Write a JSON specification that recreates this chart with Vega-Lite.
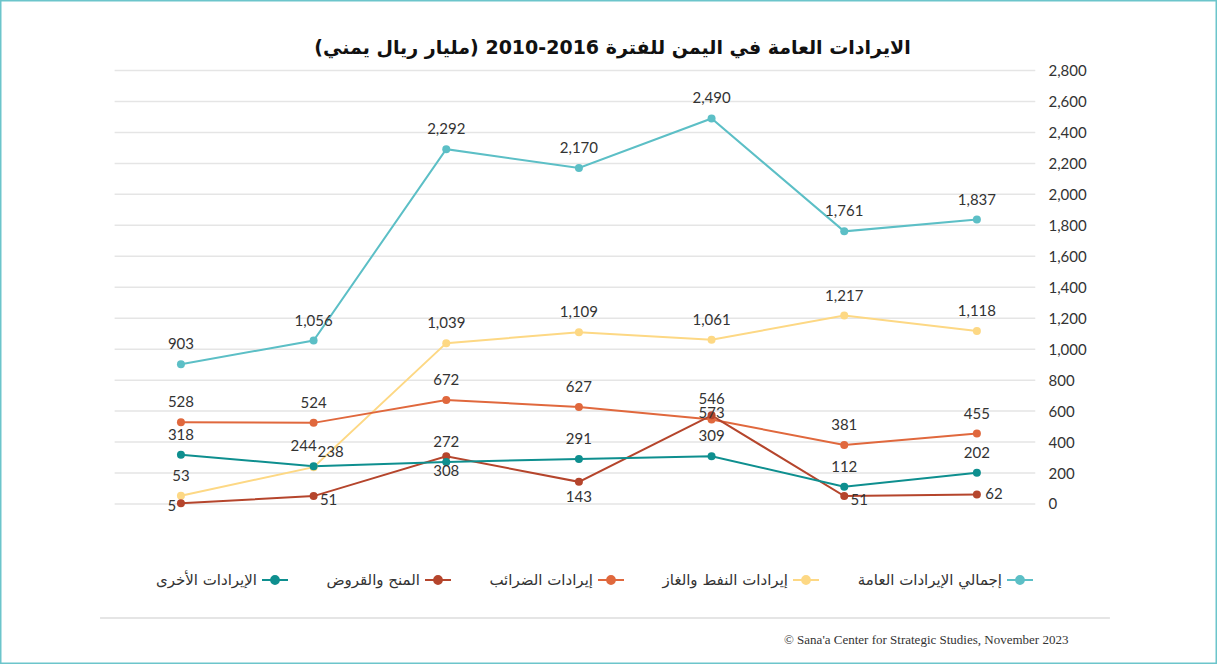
{
  "$schema": "https://vega.github.io/schema/vega-lite/v6.json",
  "width": 1217,
  "height": 664,
  "padding": 0,
  "autosize": {"type": "none"},
  "background": "white",
  "config": {
    "view": {"stroke": "#6cc5cb", "strokeWidth": 3},
    "font": "Lato"
  },
  "title": {
    "text": "\u200Fالايرادات العامة في اليمن للفترة 2016-2010 (مليار ريال يمني)\u200F",
    "font": "DejaVu Sans",
    "fontSize": 19,
    "fontWeight": "bold",
    "color": "#111111",
    "anchor": "middle",
    "frame": "group",
    "offset": -58,
    "dx": 4
  },
  "datasets": {
    "rev": [
      {"year": 2016, "series": "إجمالي الإيرادات العامة", "value": 903},
      {"year": 2015, "series": "إجمالي الإيرادات العامة", "value": 1056},
      {"year": 2014, "series": "إجمالي الإيرادات العامة", "value": 2292},
      {"year": 2013, "series": "إجمالي الإيرادات العامة", "value": 2170},
      {"year": 2012, "series": "إجمالي الإيرادات العامة", "value": 2490},
      {"year": 2011, "series": "إجمالي الإيرادات العامة", "value": 1761},
      {"year": 2010, "series": "إجمالي الإيرادات العامة", "value": 1837},
      {"year": 2016, "series": "إيرادات النفط والغاز", "value": 53},
      {"year": 2015, "series": "إيرادات النفط والغاز", "value": 238},
      {"year": 2014, "series": "إيرادات النفط والغاز", "value": 1039},
      {"year": 2013, "series": "إيرادات النفط والغاز", "value": 1109},
      {"year": 2012, "series": "إيرادات النفط والغاز", "value": 1061},
      {"year": 2011, "series": "إيرادات النفط والغاز", "value": 1217},
      {"year": 2010, "series": "إيرادات النفط والغاز", "value": 1118},
      {"year": 2016, "series": "إيرادات الضرائب", "value": 528},
      {"year": 2015, "series": "إيرادات الضرائب", "value": 524},
      {"year": 2014, "series": "إيرادات الضرائب", "value": 672},
      {"year": 2013, "series": "إيرادات الضرائب", "value": 627},
      {"year": 2012, "series": "إيرادات الضرائب", "value": 546},
      {"year": 2011, "series": "إيرادات الضرائب", "value": 381},
      {"year": 2010, "series": "إيرادات الضرائب", "value": 455},
      {"year": 2016, "series": "المنح والقروض", "value": 5},
      {"year": 2015, "series": "المنح والقروض", "value": 51},
      {"year": 2014, "series": "المنح والقروض", "value": 308},
      {"year": 2013, "series": "المنح والقروض", "value": 143},
      {"year": 2012, "series": "المنح والقروض", "value": 573},
      {"year": 2011, "series": "المنح والقروض", "value": 51},
      {"year": 2010, "series": "المنح والقروض", "value": 62},
      {"year": 2016, "series": "الإيرادات الأخرى", "value": 318},
      {"year": 2015, "series": "الإيرادات الأخرى", "value": 244},
      {"year": 2014, "series": "الإيرادات الأخرى", "value": 272},
      {"year": 2013, "series": "الإيرادات الأخرى", "value": 291},
      {"year": 2012, "series": "الإيرادات الأخرى", "value": 309},
      {"year": 2011, "series": "الإيرادات الأخرى", "value": 112},
      {"year": 2010, "series": "الإيرادات الأخرى", "value": 202}
    ],
    "grid": [
      {"tick": 0}, {"tick": 200}, {"tick": 400}, {"tick": 600}, {"tick": 800},
      {"tick": 1000}, {"tick": 1200}, {"tick": 1400}, {"tick": 1600}, {"tick": 1800},
      {"tick": 2000}, {"tick": 2200}, {"tick": 2400}, {"tick": 2600}, {"tick": 2800}
    ],
    "note": [
      {"source": "© Sana'a Center for Strategic Studies, November 2023"}
    ]
  },
  "layer": [
    {
      "data": {"name": "grid"},
      "mark": {"type": "rule", "color": "#e5e5e5", "strokeWidth": 1.5},
      "encoding": {
        "x": {"datum": 2016.5, "type": "quantitative", "scale": {"domain": [2008.19, 2017.364], "reverse": true, "nice": false, "zero": false}, "axis": null},
        "x2": {"datum": 2009.56},
        "y": {
          "field": "tick",
          "type": "quantitative",
          "scale": {"domain": [-1033.5, 3255.4], "nice": false, "zero": false},
          "axis": {
            "orient": "right",
            "offset": -169,
            "values": [0, 200, 400, 600, 800, 1000, 1200, 1400, 1600, 1800, 2000, 2200, 2400, 2600, 2800],
            "format": ",d",
            "domain": false,
            "ticks": false,
            "grid": false,
            "labelPadding": 0,
            "labelFont": "Lato",
            "labelFontSize": 15,
            "labelColor": "#333333",
            "title": null
          }
        }
      }
    },
    {
      "data": {"name": "note"},
      "mark": {"type": "rule", "color": "#dddddd", "strokeWidth": 1.5},
      "encoding": {
        "x": {"datum": 2016.61, "type": "quantitative"},
        "x2": {"datum": 2008.997},
        "y": {"datum": -736, "type": "quantitative"}
      }
    },
    {
      "data": {"name": "note"},
      "mark": {"type": "text", "align": "right", "baseline": "middle", "font": "Liberation Serif", "fontSize": 13, "color": "#333333"},
      "encoding": {
        "x": {"datum": 2009.31, "type": "quantitative"},
        "y": {"datum": -877, "type": "quantitative"},
        "text": {"field": "source"}
      }
    },
    {
      "data": {"name": "rev"},
      "mark": {"type": "line", "strokeWidth": 2, "point": {"filled": true, "size": 64}},
      "encoding": {
        "x": {
          "field": "year",
          "type": "quantitative",
          "axis": {
            "orient": "bottom",
            "offset": -143,
            "values": [2010, 2011, 2012, 2013, 2014, 2015, 2016],
            "format": "d",
            "domain": false,
            "ticks": false,
            "grid": false,
            "labelPadding": 0,
            "labelFont": "Lato",
            "labelFontSize": 20,
            "labelFontWeight": "bold",
            "labelColor": "#222222",
            "title": null
          }
        },
        "y": {"field": "value", "type": "quantitative"},
        "color": {
          "field": "series",
          "type": "nominal",
          "scale": {
            "domain": ["الإيرادات الأخرى", "المنح والقروض", "إيرادات الضرائب", "إيرادات النفط والغاز", "إجمالي الإيرادات العامة"],
            "range": ["#0e8f8f", "#b5452c", "#e0683d", "#fdd884", "#5cbfc6"]
          },
          "legend": {
            "orient": "none",
            "legendX": 261,
            "legendY": 566,
            "direction": "horizontal",
            "title": null,
            "labelFont": "DejaVu Sans",
            "labelFontSize": 15,
            "labelColor": "#333333",
            "labelAlign": "right",
            "labelOffset": -32,
            "symbolType": "M-1,0L1,0M-0.3,0A0.3,0.3,0,1,1,0.3,0A0.3,0.3,0,1,1,-0.3,0Z",
            "symbolSize": 676,
            "symbolStrokeWidth": 2,
            "columnPadding": 34
          }
        }
      }
    },
    {
      "data": {"name": "rev"},
      "transform": [{"filter": "datum.series !== 'المنح والقروض' && !(datum.year === 2015 && (datum.series === 'الإيرادات الأخرى' || datum.series === 'إيرادات النفط والغاز'))"}],
      "mark": {"type": "text", "dy": -20, "fontSize": 15, "color": "#333333", "font": "Lato"},
      "encoding": {
        "x": {"field": "year", "type": "quantitative"},
        "y": {"field": "value", "type": "quantitative"},
        "text": {"field": "value", "type": "quantitative", "format": ",d"}
      }
    },
    {
      "data": {"name": "rev"},
      "transform": [{"filter": "datum.year === 2015 && datum.series === 'الإيرادات الأخرى'"}],
      "mark": {"type": "text", "dx": -10, "dy": -20, "fontSize": 15, "color": "#333333", "font": "Lato"},
      "encoding": {
        "x": {"field": "year", "type": "quantitative"},
        "y": {"field": "value", "type": "quantitative"},
        "text": {"field": "value", "type": "quantitative", "format": ",d"}
      }
    },
    {
      "data": {"name": "rev"},
      "transform": [{"filter": "datum.year === 2015 && datum.series === 'إيرادات النفط والغاز'"}],
      "mark": {"type": "text", "dx": 17, "dy": -15, "fontSize": 15, "color": "#333333", "font": "Lato"},
      "encoding": {
        "x": {"field": "year", "type": "quantitative"},
        "y": {"field": "value", "type": "quantitative"},
        "text": {"field": "value", "type": "quantitative", "format": ",d"}
      }
    },
    {
      "data": {"name": "rev"},
      "transform": [{"filter": "datum.series === 'المنح والقروض' && datum.year === 2016"}],
      "mark": {"type": "text", "dx": -9, "dy": 3, "fontSize": 15, "color": "#333333", "font": "Lato"},
      "encoding": {
        "x": {"field": "year", "type": "quantitative"},
        "y": {"field": "value", "type": "quantitative"},
        "text": {"field": "value", "type": "quantitative", "format": ",d"}
      }
    },
    {
      "data": {"name": "rev"},
      "transform": [{"filter": "datum.series === 'المنح والقروض' && (datum.year === 2015 || datum.year === 2011)"}],
      "mark": {"type": "text", "dx": 15, "dy": 4, "fontSize": 15, "color": "#333333", "font": "Lato"},
      "encoding": {
        "x": {"field": "year", "type": "quantitative"},
        "y": {"field": "value", "type": "quantitative"},
        "text": {"field": "value", "type": "quantitative", "format": ",d"}
      }
    },
    {
      "data": {"name": "rev"},
      "transform": [{"filter": "datum.series === 'المنح والقروض' && datum.year === 2010"}],
      "mark": {"type": "text", "dx": 17, "dy": 0, "fontSize": 15, "color": "#333333", "font": "Lato"},
      "encoding": {
        "x": {"field": "year", "type": "quantitative"},
        "y": {"field": "value", "type": "quantitative"},
        "text": {"field": "value", "type": "quantitative", "format": ",d"}
      }
    },
    {
      "data": {"name": "rev"},
      "transform": [{"filter": "datum.series === 'المنح والقروض' && (datum.year === 2014 || datum.year === 2013)"}],
      "mark": {"type": "text", "dy": 15, "fontSize": 15, "color": "#333333", "font": "Lato"},
      "encoding": {
        "x": {"field": "year", "type": "quantitative"},
        "y": {"field": "value", "type": "quantitative"},
        "text": {"field": "value", "type": "quantitative", "format": ",d"}
      }
    },
    {
      "data": {"name": "rev"},
      "transform": [{"filter": "datum.series === 'المنح والقروض' && datum.year === 2012"}],
      "mark": {"type": "text", "dy": -2, "fontSize": 15, "color": "#333333", "font": "Lato"},
      "encoding": {
        "x": {"field": "year", "type": "quantitative"},
        "y": {"field": "value", "type": "quantitative"},
        "text": {"field": "value", "type": "quantitative", "format": ",d"}
      }
    }
  ]
}
